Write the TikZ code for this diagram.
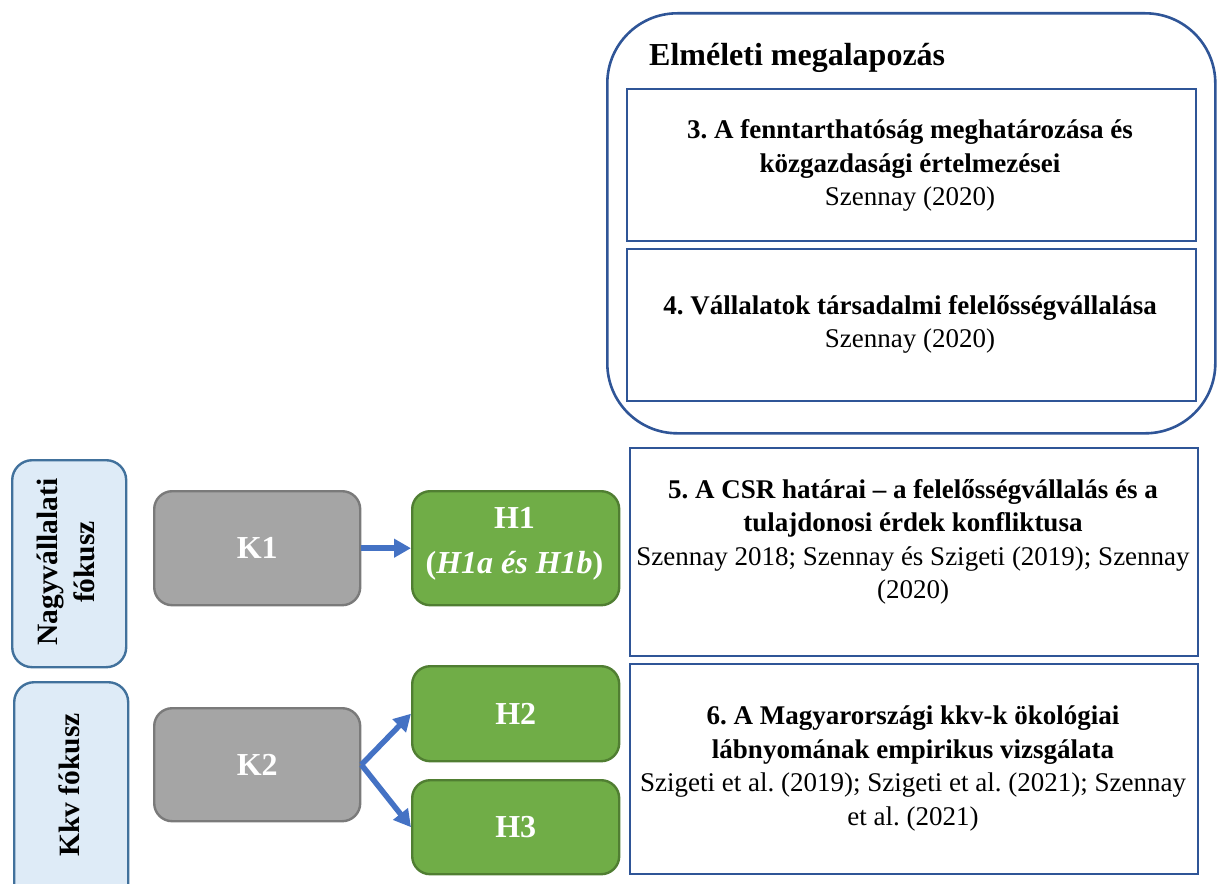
\documentclass[tikz,border=0pt]{standalone}
\usepackage{fontspec}
\setmainfont{Liberation Serif}
\usetikzlibrary{arrows.meta}
\frenchspacing

\definecolor{frameblue}{HTML}{2F5597}
\definecolor{focusfill}{HTML}{DEEBF7}
\definecolor{focusline}{HTML}{41719C}
\definecolor{kfill}{HTML}{A5A5A5}
\definecolor{kline}{HTML}{7A7A7A}
\definecolor{hfill}{HTML}{70AD47}
\definecolor{hline}{HTML}{507E32}
\definecolor{arrowblue}{HTML}{4472C4}

\tikzset{
  boxat/.style={anchor=north west, inner sep=0pt},
  outerframe/.style={boxat, draw=frameblue, line width=2.6pt, rounded corners=70pt},
  chapterbox/.style={boxat, draw=frameblue, line width=2.4pt},
  focusbox/.style={boxat, draw=focusline, fill=focusfill, line width=2.4pt, rounded corners=20pt},
  kbox/.style={boxat, draw=kline, fill=kfill, line width=2.4pt, rounded corners=18pt},
  hbox/.style={boxat, draw=hline, fill=hfill, line width=2.4pt, rounded corners=18pt},
  chaptertext/.style={inner sep=0pt, align=center, font=\fontsize{27}{33.5}\selectfont},
  labeltext/.style={inner sep=0pt, align=center, text=white, font=\fontsize{32}{45}\selectfont\bfseries},
  focustext/.style={inner sep=0pt, align=center, rotate=90, font=\fontsize{29.5}{37}\selectfont\bfseries},
  flow/.style={draw=arrowblue, line width=5.5pt, -{Triangle[length=17pt, width=18pt]}}
}

\begin{document}
\begin{tikzpicture}[x=1pt, y=-1pt]
\useasboundingbox (0,0) rectangle (1217,883);
\clip (0,0) rectangle (1217,883);

% theoretical foundation frame
\node (frame) [outerframe, minimum width=608pt, minimum height=420pt] at (606,12) {};
\node (frametitle) [anchor=base west, inner sep=0pt, font=\fontsize{32}{38}\selectfont\bfseries] at (649,66) {Elméleti megalapozás};

% chapter boxes
\node (c3) [chapterbox, minimum width=569pt, minimum height=152pt] at (626,88) {};
\node (c4) [chapterbox, minimum width=569pt, minimum height=152pt] at (626,248) {};
\node (c5) [chapterbox, minimum width=568pt, minimum height=208pt] at (629,447) {};
\node (c6) [chapterbox, minimum width=568pt, minimum height=210pt] at (629,663) {};

\node (t3) [chaptertext] at (910,165.5) {\textbf{3. A fenntarthatóság meghatározása és}\\\textbf{közgazdasági értelmezései}\\Szennay (2020)};
\node (t4) [chaptertext] at (910,324.5) {\textbf{4. Vállalatok társadalmi felelősségvállalása}\\Szennay (2020)};
\node (t5) [chaptertext] at (913,542) {\textbf{5. A CSR határai – a felelősségvállalás és a}\\\textbf{tulajdonosi érdek konfliktusa}\\Szennay 2018; Szennay és Szigeti (2019); Szennay\\(2020)};
\node (t6) [chaptertext] at (913,768.5) {\textbf{6. A Magyarországi kkv-k ökológiai}\\\textbf{lábnyomának empirikus vizsgálata}\\Szigeti et al. (2019); Szigeti et al. (2021); Szennay\\et al. (2021)};

% focus labels
\node (f1) [focusbox, minimum width=114pt, minimum height=207pt] at (11,459) {};
\node (f2) [focusbox, minimum width=114pt, minimum height=230pt] at (13,681) {};
\node (f1t) [focustext] at (66,562) {Nagyvállalati\\fókusz};
\node (f2t) [focustext] at (69,785) {Kkv fókusz};

% research questions
\node (k1) [kbox, minimum width=206pt, minimum height=114pt] at (153,490) {};
\node (k2) [kbox, minimum width=206pt, minimum height=113pt] at (153,707) {};
\node (k1t) [labeltext] at (k1.center) {K1};
\node (k2t) [labeltext] at (k2.center) {K2};

% hypotheses
\node (h1) [hbox, minimum width=207pt, minimum height=114pt] at (411,490) {};
\node (h2) [hbox, minimum width=207pt, minimum height=95pt] at (411,665) {};
\node (h3) [hbox, minimum width=207pt, minimum height=94pt] at (411,779) {};
\node (h1t) [labeltext] at (514.5,544) {H1\\(\textit{H1a és H1b})};
\node (h2t) [labeltext] at (h2.center) {H2};
\node (h3t) [labeltext] at (h3.center) {H3};

% connectors
\draw[flow] (k1.east) -- (h1.west);
\draw[flow] (k2.east) -- (h2.west);
\draw[flow] (k2.east) -- (h3.west);
\end{tikzpicture}
\end{document}
